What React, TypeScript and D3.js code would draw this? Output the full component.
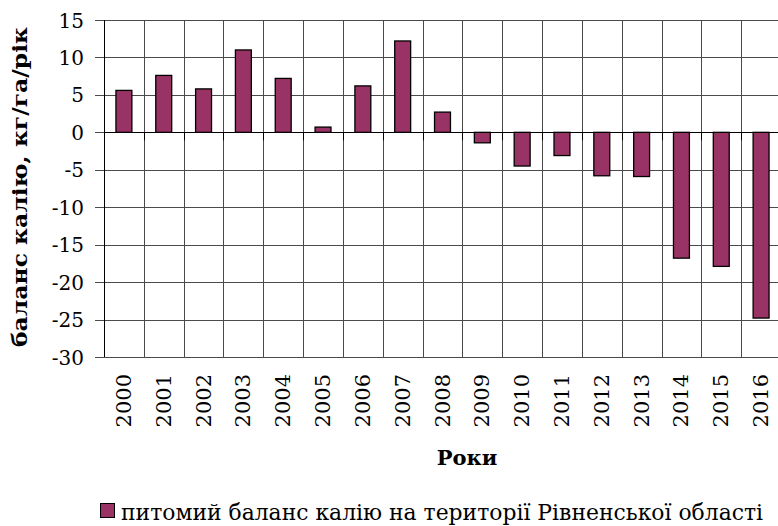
import React from 'react'
import * as d3 from 'd3'

// роки та питомий баланс калію, кг/га/рік
const years = ['2000', '2001', '2002', '2003', '2004', '2005', '2006', '2007', '2008',
  '2009', '2010', '2011', '2012', '2013', '2014', '2015', '2016']
const balance = [5.6, 7.6, 5.8, 11.0, 7.2, 0.7, 6.2, 12.2, 2.7,
  -1.4, -4.5, -3.1, -5.8, -5.9, -16.8, -17.9, -24.8]
const yTicks = [15, 10, 5, 0, -5, -10, -15, -20, -25, -30]

const seriesName = 'питомий баланс калію на території Рівненської області'
const yTitle = 'баланс калію, кг/га/рік'
const xTitle = 'Роки'

const App = () => {
  const chartRef = React.useRef<SVGSVGElement | null>(null)

  React.useEffect(() => {
    const width = 778
    const height = 526
    const margin = { top: 20, right: -3, bottom: 169, left: 104 }
    const barColor = '#993366'
    const gridColor = '#4a4a4a'
    const font = "'DejaVu Serif', serif"

    const x = d3.scaleBand()
      .domain(years)
      .range([margin.left, width - margin.right])
      .paddingInner(0)
      .paddingOuter(0)

    const y = d3.scaleLinear()
      .domain([-30, 15])
      .range([height - margin.bottom, margin.top])

    const svg = d3.select(chartRef.current)
    svg.selectAll('*').remove()

    const x0 = margin.left
    const x1 = width - margin.right
    const y0 = margin.top
    const y1 = height - margin.bottom

    // горизонтальна сітка + засічки
    svg.append('g')
      .selectAll('line')
      .data(yTicks)
      .enter()
      .append('line')
      .attr('x1', x0 - 9)
      .attr('x2', x1)
      .attr('y1', (d) => Math.round(y(d)) + 0.5)
      .attr('y2', (d) => Math.round(y(d)) + 0.5)
      .attr('stroke', gridColor)
      .attr('stroke-width', 1)

    // вертикальна сітка на межах категорій
    const bounds = years.map((d) => x(d) || 0).concat([x1])
    svg.append('g')
      .selectAll('line')
      .data(bounds)
      .enter()
      .append('line')
      .attr('x1', (d) => Math.round(d) + 0.5)
      .attr('x2', (d) => Math.round(d) + 0.5)
      .attr('y1', y0)
      .attr('y2', y1)
      .attr('stroke', gridColor)
      .attr('stroke-width', 1)

    // засічки осі X (на нулі)
    svg.append('g')
      .selectAll('line')
      .data(bounds)
      .enter()
      .append('line')
      .attr('x1', (d) => Math.round(d) + 0.5)
      .attr('x2', (d) => Math.round(d) + 0.5)
      .attr('y1', y(0))
      .attr('y2', y(0) + 8)
      .attr('stroke', '#000')

    // вісь Y
    svg.append('line')
      .attr('x1', x0 + 0.5).attr('x2', x0 + 0.5)
      .attr('y1', y0).attr('y2', y1)
      .attr('stroke', '#000')

    // вісь X через нуль
    svg.append('line')
      .attr('x1', x0).attr('x2', x1)
      .attr('y1', Math.round(y(0)) + 0.5).attr('y2', Math.round(y(0)) + 0.5)
      .attr('stroke', '#000')

    // стовпчики
    const bw = x.bandwidth() * 0.4
    svg.append('g')
      .selectAll('rect')
      .data(years)
      .enter()
      .append('rect')
      .attr('x', (d) => (x(d) || 0) + (x.bandwidth() - bw) / 2)
      .attr('y', (d, i) => y(Math.max(0, balance[i])))
      .attr('width', bw)
      .attr('height', (d, i) => Math.abs(y(balance[i]) - y(0)))
      .attr('fill', barColor)
      .attr('stroke', '#000')
      .attr('stroke-width', 1.3)

    // підписи осі Y
    svg.append('g')
      .selectAll('text')
      .data(yTicks)
      .enter()
      .append('text')
      .attr('x', 84)
      .attr('y', (d) => y(d) + 7.5)
      .attr('text-anchor', 'end')
      .style('font-family', font)
      .style('font-size', '20px')
      .text((d) => String(d))

    // підписи осі X
    svg.append('g')
      .selectAll('text')
      .data(years)
      .enter()
      .append('text')
      .attr('transform', (d) => `translate(${(x(d) || 0) + x.bandwidth() / 2 + 7},374) rotate(-90)`)
      .attr('text-anchor', 'end')
      .style('font-family', font)
      .style('font-size', '21px')
      .text((d) => d)

    // назви осей
    svg.append('text')
      .attr('x', 467)
      .attr('y', 465)
      .attr('text-anchor', 'middle')
      .style('font-family', font)
      .style('font-size', '21px')
      .style('font-weight', 'bold')
      .text(xTitle)

    svg.append('text')
      .attr('transform', `translate(27,187) rotate(-90)`)
      .attr('text-anchor', 'middle')
      .attr('textLength', 320)
      .attr('lengthAdjust', 'spacingAndGlyphs')
      .style('font-family', font)
      .style('font-size', '21px')
      .style('font-weight', 'bold')
      .text(yTitle)

    // легенда
    svg.append('rect')
      .attr('x', 100.5)
      .attr('y', 503.5)
      .attr('width', 14)
      .attr('height', 14)
      .attr('fill', barColor)
      .attr('stroke', '#000')

    svg.append('text')
      .attr('x', 121)
      .attr('y', 520)
      .attr('textLength', 642)
      .attr('lengthAdjust', 'spacingAndGlyphs')
      .style('font-family', font)
      .style('font-size', '22px')
      .text(seriesName)
  }, [])

  return (
    <svg ref={chartRef} width={778} height={526}
      style={{ position: 'absolute', left: 0, top: 0, background: '#fff' }} />
  )
}

export default App
